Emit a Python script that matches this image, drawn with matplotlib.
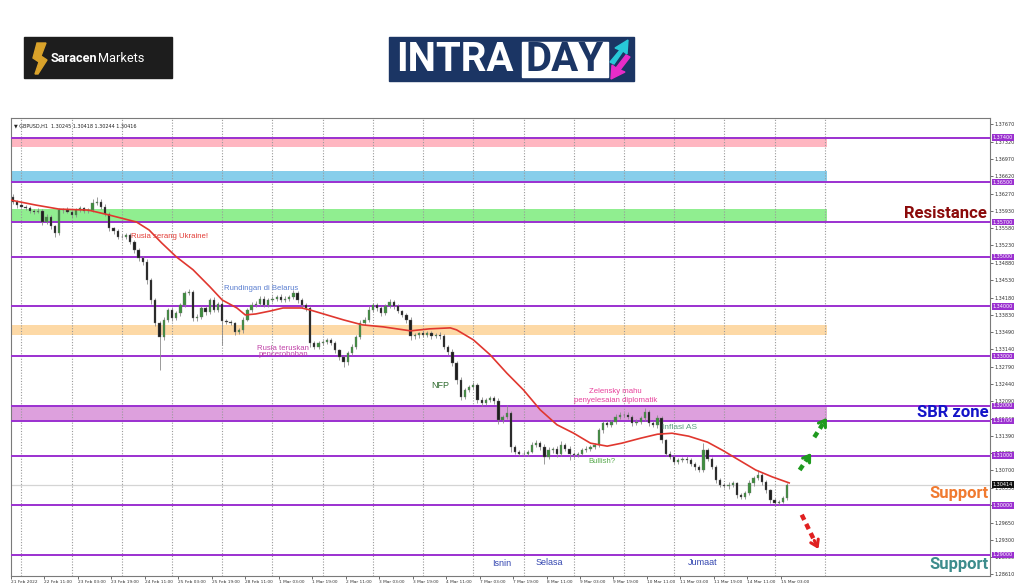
# -*- coding: utf-8 -*-
import numpy as np
import matplotlib.pyplot as plt
import matplotlib.patches as patches

# GBPUSD, 2-hour candles (21 Feb - 15 Mar 2022)
first_open = 1.3620
closes = [
    1.3611, 1.3604, 1.3601, 1.3598, 1.3593, 1.3591, 1.3593, 1.3571, 1.3581, 1.3561,
    1.3547, 1.3594, 1.3595, 1.3591, 1.3584, 1.3594, 1.3598, 1.3593, 1.3594, 1.3608,
    1.3611, 1.3601, 1.3587, 1.3557, 1.3551, 1.3540, 1.3540, 1.3544, 1.3530, 1.3514,
    1.3497, 1.3490, 1.3453, 1.3413, 1.3366, 1.3339, 1.3373, 1.3393, 1.3376, 1.3386,
    1.3403, 1.3427, 1.3430, 1.3376, 1.3379, 1.3396, 1.3389, 1.3413, 1.3393, 1.3406,
    1.3370, 1.3369, 1.3366, 1.3349, 1.3352, 1.3373, 1.3393, 1.3403, 1.3406, 1.3416,
    1.3403, 1.3413, 1.3416, 1.3420, 1.3413, 1.3416, 1.3420, 1.3427, 1.3413, 1.3403,
    1.3396, 1.3326, 1.3319, 1.3326, 1.3329, 1.3333, 1.3326, 1.3312, 1.3299, 1.3289,
    1.3306, 1.3319, 1.3339, 1.3366, 1.3373, 1.3393, 1.3403, 1.3396, 1.3386, 1.3400,
    1.3410, 1.3400, 1.3390, 1.3383, 1.3373, 1.3340, 1.3343, 1.3346, 1.3343, 1.3346,
    1.3340, 1.3343, 1.3340, 1.3319, 1.3309, 1.3286, 1.3253, 1.3218, 1.3232, 1.3238,
    1.3242, 1.3212, 1.3205, 1.3212, 1.3215, 1.3209, 1.3171, 1.3178, 1.3185, 1.3118,
    1.3108, 1.3104, 1.3104, 1.3108, 1.3121, 1.3125, 1.3118, 1.3098, 1.3111, 1.3114,
    1.3104, 1.3121, 1.3114, 1.3104, 1.3101, 1.3104, 1.3111, 1.3114, 1.3118, 1.3121,
    1.3151, 1.3165, 1.3161, 1.3168, 1.3178, 1.3182, 1.3182, 1.3178, 1.3165, 1.3168,
    1.3175, 1.3188, 1.3165, 1.3161, 1.3175, 1.3131, 1.3104, 1.3098, 1.3088, 1.3091,
    1.3094, 1.3091, 1.3084, 1.3078, 1.3071, 1.3111, 1.3094, 1.3078, 1.3051, 1.3041,
    1.3038, 1.3041, 1.3044, 1.3020, 1.3017, 1.3024, 1.3044, 1.3054, 1.3060, 1.3047,
    1.3030, 1.3010, 1.3004, 1.3007, 1.3014, 1.3041,
]
# wick lengths in pips above / below the body
upper_wick = [
    6, 3, 4, 3, 4, 3, 5, 3, 6, 4,
    3, 5, 4, 5, 3, 4, 5, 3, 4, 8,
    9, 6, 5, 4, 3, 4, 5, 4, 3, 4,
    3, 4, 5, 4, 4, 5, 6, 4, 5, 4,
    4, 5, 6, 4, 5, 6, 4, 5, 6, 4,
    8, 5, 4, 3, 4, 5, 4, 6, 5, 6,
    5, 4, 5, 4, 6, 5, 4, 7, 5, 4,
    4, 6, 4, 5, 4, 3, 4, 5, 3, 4,
    4, 5, 4, 6, 5, 7, 5, 4, 5, 6,
    6, 4, 5, 3, 4, 6, 4, 3, 4, 5,
    4, 3, 5, 4, 3, 6, 4, 5, 4, 5,
    6, 4, 5, 3, 4, 5, 6, 4, 17, 4,
    3, 4, 5, 3, 6, 7, 4, 5, 6, 4,
    6, 8, 4, 5, 3, 4, 5, 6, 4, 5,
    5, 4, 6, 4, 5, 6, 4, 5, 4, 5,
    5, 7, 4, 5, 6, 4, 3, 5, 4, 5,
    4, 5, 4, 3, 4, 14, 5, 4, 3, 4,
    4, 5, 4, 3, 4, 5, 6, 5, 12, 4,
    4, 3, 4, 3, 4, 3,
]
lower_wick = [
    4, 5, 3, 4, 5, 4, 3, 8, 4, 5,
    7, 4, 5, 3, 6, 4, 3, 5, 4, 3,
    4, 5, 4, 6, 5, 4, 3, 4, 5, 6,
    5, 6, 7, 8, 5, 67, 6, 4, 5, 4,
    5, 4, 4, 6, 5, 4, 6, 4, 5, 5,
    48, 5, 4, 6, 4, 5, 3, 5, 4, 4,
    5, 4, 3, 5, 4, 3, 4, 4, 5, 6,
    5, 7, 5, 4, 3, 5, 4, 5, 6, 10,
    6, 4, 5, 4, 3, 5, 4, 5, 6, 4,
    4, 5, 4, 5, 6, 7, 5, 6, 4, 5,
    5, 4, 6, 5, 7, 6, 8, 6, 5, 4,
    4, 6, 5, 4, 5, 6, 7, 5, 4, 10,
    5, 4, 5, 4, 3, 4, 6, 14, 4, 5,
    6, 4, 5, 13, 5, 4, 3, 4, 5, 4,
    4, 5, 4, 3, 4, 5, 4, 5, 6, 4,
    4, 5, 6, 4, 5, 6, 5, 4, 5, 4,
    4, 5, 4, 6, 5, 4, 5, 4, 6, 5,
    4, 5, 4, 6, 4, 5, 4, 5, 4, 6,
    5, 6, 4, 4, 3, 3,
]

# red moving average, read at hourly bar positions
ma_bars = [0, 12, 23, 37, 47, 60, 66, 72, 79, 87, 95, 101, 108, 112, 117, 124, 130, 139,
           143, 151, 159, 168, 178, 191, 200, 210, 213, 221, 229, 237, 245, 253, 261,
           269, 277, 285, 292, 301, 309, 316, 324, 333, 340, 348, 356, 364, 372]
ma_vals = [1.3614, 1.3604, 1.3596, 1.3594, 1.3584, 1.3570, 1.3554, 1.3528, 1.3500, 1.3474,
           1.3440, 1.3413, 1.3397, 1.3383, 1.3385, 1.3391, 1.3397, 1.3397, 1.3393, 1.3383,
           1.3373, 1.3363, 1.3359, 1.3351, 1.3355, 1.3357, 1.3353, 1.3333, 1.3303, 1.3266,
           1.3232, 1.3192, 1.3162, 1.3145, 1.3125, 1.3119, 1.3125, 1.3135, 1.3143, 1.3145,
           1.3139, 1.3127, 1.3111, 1.3091, 1.3071, 1.3057, 1.3045]

levels = [1.3740, 1.3650, 1.3570, 1.3500, 1.3400, 1.3300, 1.3200, 1.3170, 1.3100, 1.3000, 1.2900]
zone_low = [1.3721, 1.3650, 1.3570, 1.3342, 1.3170]
zone_high = [1.3740, 1.3673, 1.3596, 1.3363, 1.3200]
zone_colors = ['#ffb6c1', '#87ceeb', '#90ee90', '#fdd9a6', '#dda0dd']
last_price = 1.30414

price_ticks = [1.37670, 1.37320, 1.36970, 1.36620, 1.36270, 1.35930, 1.35580, 1.35230,
               1.34880, 1.34530, 1.34180, 1.33830, 1.33490, 1.33140, 1.32790, 1.32440,
               1.32090, 1.31740, 1.31390, 1.31050, 1.30700, 1.30350, 1.30000, 1.29650,
               1.29300, 1.28950, 1.28610]
time_labels = ['21 Feb 2022', '22 Feb 11:00', '23 Feb 03:00', '23 Feb 19:00', '24 Feb 11:00',
               '25 Feb 03:00', '25 Feb 19:00', '28 Feb 11:00', '1 Mar 03:00', '1 Mar 19:00',
               '2 Mar 11:00', '3 Mar 03:00', '3 Mar 19:00', '4 Mar 11:00', '7 Mar 03:00',
               '7 Mar 19:00', '8 Mar 11:00', '9 Mar 03:00', '9 Mar 19:00', '10 Mar 11:00',
               '11 Mar 03:00', '11 Mar 19:00', '14 Mar 11:00', '15 Mar 03:00']

closes = np.array(closes)
opens = np.r_[first_open, closes[:-1]]
highs = np.maximum(opens, closes) + np.array(upper_wick) * 1e-4
lows = np.minimum(opens, closes) - np.array(lower_wick) * 1e-4
xs = 2 * np.arange(len(closes)) + 1  # each candle covers two hourly bars

fig = plt.figure(figsize=(10.24, 5.87), dpi=100)
ax = fig.add_axes([11 / 1024, 1 - 576 / 587, 979 / 1024, 458 / 587])
ax.set_xlim(0, 468)
ax.set_ylim(1.28577, 1.37793)

# zones and levels
for lo_, hi_, col in zip(zone_low, zone_high, zone_colors):
    ax.fill_between([0, 390], lo_, hi_, color=col, lw=0, zorder=1)
ax.axhline(last_price, color='#d4d4d4', lw=0.9, zorder=1)
for lv in levels:
    ax.axhline(lv, color='#9b30d0', lw=1.4, zorder=3)

# vertical dotted grid
for gx in range(5, 390, 24):
    ax.axvline(gx, color='#9a9a9a', lw=0.8, ls=(0, (1, 1.5)), zorder=2)

# candles
up = closes >= opens
ax.vlines(xs, lows, highs, color='#8a8a8a', lw=0.6, zorder=4)
ax.bar(xs[up], (closes - opens)[up], bottom=opens[up], width=1.1,
       color='#3f8f3f', edgecolor='#707070', lw=0.25, zorder=5)
ax.bar(xs[~up], (opens - closes)[~up], bottom=closes[~up], width=1.1,
       color='#1e1e1e', edgecolor='#707070', lw=0.25, zorder=5)

ax.plot(ma_bars, ma_vals, color='#e0372f', lw=1.2, zorder=6)

# axes look
for s in ax.spines.values():
    s.set_color('#7a7a7a')
    s.set_linewidth(0.8)
ax.yaxis.tick_right()
ax.set_yticks(price_ticks)
ax.set_yticklabels(['%.5f' % v for v in price_ticks])
ax.tick_params(axis='y', labelsize=3.5, length=2, width=0.5, colors='#333333', pad=1.5)
ax.set_xticks(np.arange(len(time_labels)) * 16)
ax.set_xticklabels(time_labels, ha='left')
ax.tick_params(axis='x', labelsize=3.1, length=2, width=0.5, colors='#333333', pad=1)

for lv in levels:
    ax.text(1.003, lv, '%.5f' % lv, transform=ax.get_yaxis_transform(), fontsize=3.5,
            color='white', va='center', ha='left', zorder=10,
            bbox=dict(boxstyle='square,pad=0.15', fc='#9b30d0', ec='none'))
ax.text(1.003, last_price, '%.5f' % last_price, transform=ax.get_yaxis_transform(),
        fontsize=3.5, color='white', va='center', ha='left', zorder=10,
        bbox=dict(boxstyle='square,pad=0.15', fc='#111111', ec='none'))

ax.text(0.003, 0.988, '\u25bc GBPUSD,H1  1.30245 1.30418 1.30244 1.30416',
        transform=ax.transAxes, fontsize=3.5, color='#222222', va='top', zorder=10)

# notes on the chart
note = dict(family='Liberation Sans', fontsize=5.6, zorder=8)
ax.text(57.6, 1.3540, 'Rusia serang Ukraine!', color='#e23b35', va='center', **note)
ax.text(101.6, 1.3437, 'Rundingan di Belarus', color='#5b7fd0', va='center', **note)
ax.text(130, 1.3315, 'Rusia teruskan', color='#c042a8', va='center', ha='center', **note)
ax.text(130, 1.3304, 'pencerobohan', color='#c042a8', va='center', ha='center', **note)
ax.text(201, 1.3242, 'NFP', color='#2e6b2e', va='center', family='Liberation Sans',
        fontsize=6.5, zorder=8)
ax.text(289, 1.3228, 'Zelensky mahu', color='#e8409c', va='center', ha='center', **note)
ax.text(289, 1.3210, 'penyelesaian diplomatik', color='#e8409c', va='center', ha='center', **note)
ax.text(311, 1.3156, 'Inflasi AS', color='#5aa080', va='center', family='Liberation Sans',
        fontsize=6, zorder=8)
ax.text(276, 1.3089, 'Bullish?', color='#5aaa50', va='center', **note)
day = dict(family='Liberation Sans', fontsize=6.5, color='#3346b0', va='center', zorder=8)
ax.text(229.8, 1.2882, 'Isnin', **day)
ax.text(250.8, 1.2884, 'Selasa', **day)
ax.text(323.6, 1.2884, 'Jumaat', **day)

big = dict(family='Roboto', fontweight='bold', fontsize=12, ha='right', va='center', zorder=8)
ax.text(466.6, 1.3588, 'Resistance', color='#8b0a0a', **big)
ax.text(467.5, 1.3186, 'SBR zone', color='#1414c8', **big)
ax.text(467.5, 1.3023, 'Support', color='#f07a30', **big)
ax.text(467.5, 1.2880, 'Support', color='#3d8c8c', **big)

# dashed scenario arrows
arrows = [((377, 1.3071), (382.5, 1.3105), '#1f9a1f'),
          ((384, 1.3137), (390, 1.3176), '#1f9a1f'),
          ((378, 1.2981), (386, 1.2912), '#e02020')]
for (x0, y0), (x1, y1), col in arrows:
    xm, ym = x0 + 0.75 * (x1 - x0), y0 + 0.75 * (y1 - y0)
    ax.plot([x0, xm], [y0, ym], color=col, lw=3.2, ls=(0, (1.3, 1.0)),
            solid_capstyle='butt', zorder=8)
    ax.annotate('', xy=(x1, y1), xytext=(xm, ym), zorder=8,
                arrowprops=dict(arrowstyle='->,head_length=0.45,head_width=0.3',
                                color=col, lw=2.2, shrinkA=0, shrinkB=0))

# logos on top, drawn in pixel space
lay = fig.add_axes([0, 0, 1, 1])
lay.set_xlim(0, 1024)
lay.set_ylim(587, 0)
lay.axis('off')
lay.add_patch(patches.Rectangle((24, 37), 148, 41, color='#1d1d1d'))
lay.add_patch(patches.Polygon([(37, 43), (46, 43), (41, 56), (47, 60), (38, 74), (35, 74),
                               (39, 62), (33, 58)], closed=True, color='#d9a22a'))
t1 = lay.text(51, 58.5, 'Saracen', color='white', fontsize=9.2, fontweight='bold',
              family='Roboto', va='center')
rend = fig.canvas.get_renderer()
bb = t1.get_window_extent(renderer=rend)
lay.text(51 + bb.width + 0.5, 58.5, 'Markets', color='white', fontsize=9.2,
         family='Roboto', va='center')

lay.add_patch(patches.Rectangle((389, 37), 245, 44, color='#1b3564'))
lay.text(396, 60, 'INTRA', color='white', fontsize=29, fontweight='bold',
         family='Roboto', va='center')
lay.add_patch(patches.Rectangle((522, 42), 86, 35, color='white'))
lay.text(565, 60, 'DAY', color='#1b3564', fontsize=29, fontweight='bold',
         family='Roboto', va='center', ha='center')
lay.add_patch(patches.Polygon([(610, 62), (620, 50), (615, 48), (628, 40), (627, 54),
                               (623, 51), (614, 64)], closed=True, color='#28c8d8'))
lay.add_patch(patches.Polygon([(630, 57), (620, 70), (625, 72), (611, 79), (612, 65),
                               (616, 68), (626, 55)], closed=True, color='#e82cc8'))

plt.savefig('out.png', dpi=100)
